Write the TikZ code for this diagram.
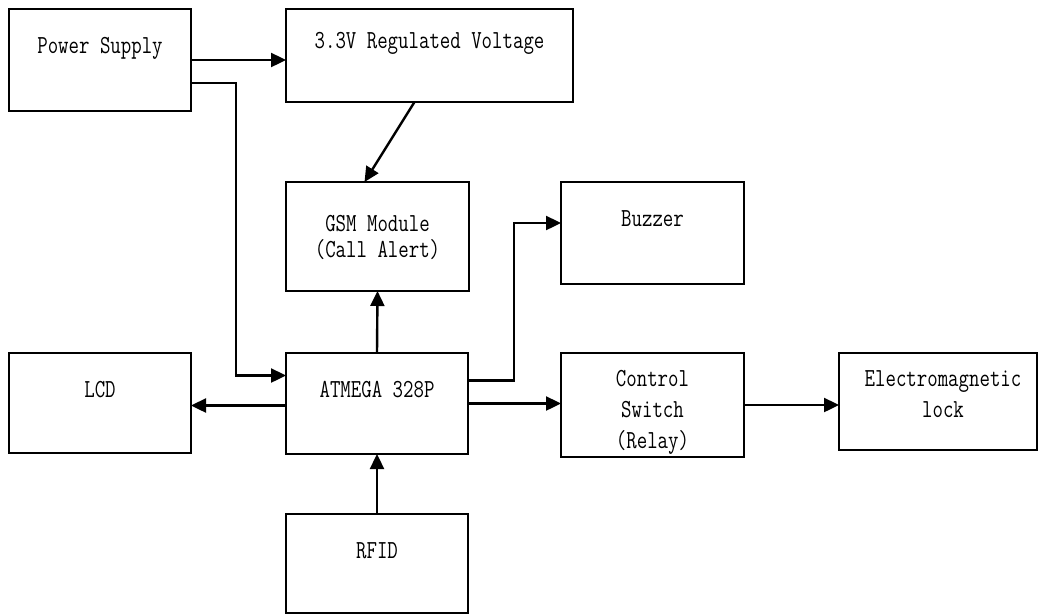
\documentclass[tikz,border=0pt]{standalone}
\usepackage{fontspec}
\newfontfamily\blockfont[FakeStretch=0.78]{Latin Modern Mono}
\usetikzlibrary{arrows.meta}

\begin{document}
\begin{tikzpicture}[
    x=1pt, y=-1pt,
    block/.style={draw, line width=1.6pt, inner sep=0pt, outer sep=0pt, anchor=north west},
    txt/.style={font=\blockfont\fontsize{26pt}{31pt}\selectfont, align=center, inner sep=0pt, anchor=base},
    arrow/.style={-{Triangle[length=15pt,width=14pt]}, line width=2.4pt}
]
\useasboundingbox (0,0) rectangle (1039,614);

% boxes
\node[block, minimum width=182pt, minimum height=102pt] (ps) at (9,9) {};
\node[block, minimum width=287pt, minimum height=93pt] (reg) at (286,9) {};
\node[block, minimum width=183pt, minimum height=109pt] (gsm) at (286,182) {};
\node[block, minimum width=183pt, minimum height=102pt] (buzz) at (561,182) {};
\node[block, minimum width=182pt, minimum height=100pt] (lcd) at (9,353) {};
\node[block, minimum width=182pt, minimum height=101pt] (mcu) at (286,353) {};
\node[block, minimum width=183pt, minimum height=104pt] (sw) at (561,353) {};
\node[block, minimum width=198pt, minimum height=97pt] (em) at (839,353) {};
\node[block, minimum width=182pt, minimum height=99pt] (rfid) at (286,514) {};

% labels (base = last line)
\node[txt] (pstxt) at ([yshift=-44pt]ps.north) {Power Supply};
\node[txt] (regtxt) at ([yshift=-39pt]reg.north) {3.3V Regulated Voltage};
\node[txt] (gsmtxt) at ([yshift=-75pt]gsm.north) {GSM Module\\[-5pt](Call Alert)};
\node[txt] (buzztxt) at ([yshift=-44pt]buzz.north) {Buzzer};
\node[txt] (lcdtxt) at ([yshift=-44pt]lcd.north) {LCD};
\node[txt] (mcutxt) at ([yshift=-44pt]mcu.north) {ATMEGA 328P};
\node[txt] (swtxt) at ([yshift=-95pt]sw.north) {Control\\Switch\\(Relay)};
\node[txt] (emtxt) at ([xshift=5pt,yshift=-64pt]em.north) {Electromagnetic\\lock};
\node[txt] (rfidtxt) at ([yshift=-44pt]rfid.north) {RFID};

% connections
\draw[arrow] (ps.east) -- (ps.east -| reg.west);
\draw[arrow] ([yshift=-23pt]ps.east) -| ([xshift=-50pt,yshift=28pt]mcu.west) -- ([yshift=28pt]mcu.west);
\draw[arrow] ([xshift=-15pt]reg.south) -- ([xshift=-13pt]gsm.north);
\draw[arrow] (mcu.north) -- (gsm.south);
\draw[arrow] ([yshift=-2pt]mcu.west) -- ([yshift=-2pt]mcu.west -| lcd.east);
\draw[arrow] ([yshift=23pt]mcu.east) -| ([xshift=-47pt,yshift=10pt]buzz.west) -- ([yshift=10pt]buzz.west);
\draw[arrow] (mcu.east) -- (mcu.east -| sw.west);
\draw[arrow] (sw.east) -- (sw.east -| em.west);
\draw[arrow] (rfid.north) -- (mcu.south);

\end{tikzpicture}
\end{document}
